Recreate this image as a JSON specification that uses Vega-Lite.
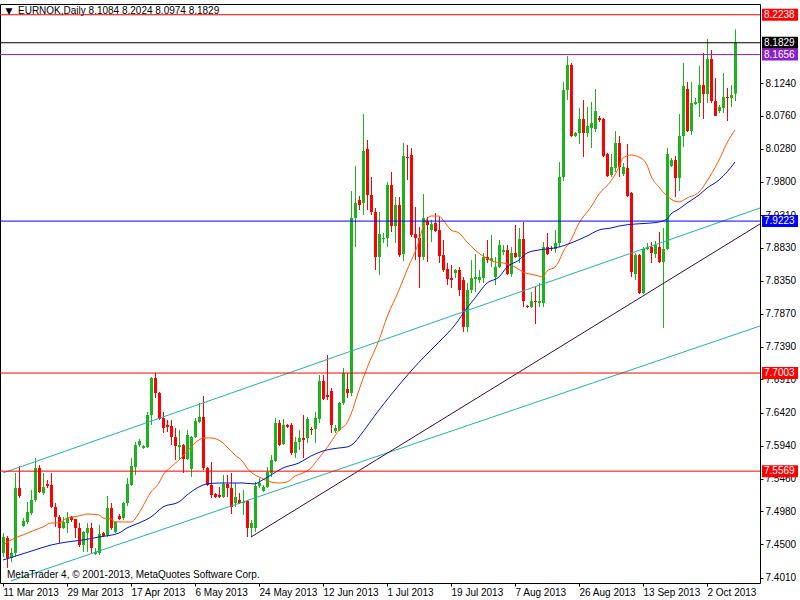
{
"$schema":"https://vega.github.io/schema/vega-lite/v6.json",
"width":760,"height":579,
"autosize":{"type":"none"},
"padding":{"left":0,"top":4,"right":40,"bottom":17},
"background":"#ffffff",
"config":{"view":{"stroke":"#000000","strokeWidth":1},"axis":{"labelFont":"Liberation Sans","labelFontSize":10,"labelColor":"#000000","tickColor":"#000000","grid":false,"domain":false,"labelOverlap":false,"labelSeparation":0},"text":{"font":"Liberation Sans","fontSize":10}},
"datasets":{
"candles":[
{"i":0,"o":7.4374,"h":7.4666,"l":7.4315,"c":7.4607},
{"i":1,"o":7.4593,"h":7.4622,"l":7.4155,"c":7.4301},
{"i":2,"o":7.4301,"h":7.4447,"l":7.4242,"c":7.4374},
{"i":3,"o":7.4374,"h":7.5543,"l":7.4315,"c":7.5323},
{"i":4,"o":7.5323,"h":7.5645,"l":7.5177,"c":7.5206},
{"i":5,"o":7.4768,"h":7.4885,"l":7.4754,"c":7.4841},
{"i":6,"o":7.4827,"h":7.5119,"l":7.4797,"c":7.4973},
{"i":7,"o":7.4958,"h":7.5294,"l":7.4929,"c":7.5148},
{"i":8,"o":7.5148,"h":7.5762,"l":7.5119,"c":7.5616},
{"i":9,"o":7.5616,"h":7.5659,"l":7.5250,"c":7.5265},
{"i":10,"o":7.5250,"h":7.5543,"l":7.5221,"c":7.5338},
{"i":11,"o":7.5382,"h":7.5440,"l":7.5323,"c":7.5353},
{"i":12,"o":7.5367,"h":7.5543,"l":7.5031,"c":7.5046},
{"i":13,"o":7.5046,"h":7.5104,"l":7.4754,"c":7.4900},
{"i":14,"o":7.4900,"h":7.4929,"l":7.4520,"c":7.4739},
{"i":15,"o":7.4739,"h":7.4900,"l":7.4724,"c":7.4827},
{"i":16,"o":7.4812,"h":7.4973,"l":7.4666,"c":7.4885},
{"i":17,"o":7.4900,"h":7.4914,"l":7.4827,"c":7.4856},
{"i":18,"o":7.4870,"h":7.4870,"l":7.4593,"c":7.4739},
{"i":19,"o":7.4739,"h":7.4812,"l":7.4461,"c":7.4490},
{"i":20,"o":7.4490,"h":7.4695,"l":7.4388,"c":7.4681},
{"i":21,"o":7.4666,"h":7.4812,"l":7.4388,"c":7.4739},
{"i":22,"o":7.4739,"h":7.4812,"l":7.4374,"c":7.4447},
{"i":23,"o":7.4359,"h":7.4447,"l":7.4344,"c":7.4388},
{"i":24,"o":7.4374,"h":7.4783,"l":7.4344,"c":7.4651},
{"i":25,"o":7.4666,"h":7.4681,"l":7.4607,"c":7.4622},
{"i":26,"o":7.4637,"h":7.5206,"l":7.4607,"c":7.5031},
{"i":27,"o":7.5031,"h":7.5104,"l":7.4710,"c":7.4739},
{"i":28,"o":7.4681,"h":7.4841,"l":7.4666,"c":7.4827},
{"i":29,"o":7.4914,"h":7.4943,"l":7.4856,"c":7.4870},
{"i":30,"o":7.4885,"h":7.5119,"l":7.4856,"c":7.5104},
{"i":31,"o":7.5104,"h":7.5469,"l":7.5060,"c":7.5382},
{"i":32,"o":7.5367,"h":7.5762,"l":7.5353,"c":7.5645},
{"i":33,"o":7.5630,"h":7.5995,"l":7.5513,"c":7.5952},
{"i":34,"o":7.5952,"h":7.6039,"l":7.5922,"c":7.6010},
{"i":35,"o":7.5908,"h":7.5952,"l":7.5893,"c":7.5937},
{"i":36,"o":7.5922,"h":7.6434,"l":7.5908,"c":7.6390},
{"i":37,"o":7.6390,"h":7.6945,"l":7.6244,"c":7.6930},
{"i":38,"o":7.6930,"h":7.7004,"l":7.6638,"c":7.6711},
{"i":39,"o":7.6711,"h":7.6726,"l":7.6317,"c":7.6331},
{"i":40,"o":7.6346,"h":7.6434,"l":7.6127,"c":7.6200},
{"i":41,"o":7.6244,"h":7.6317,"l":7.6141,"c":7.6215},
{"i":42,"o":7.6229,"h":7.6317,"l":7.5952,"c":7.6068},
{"i":43,"o":7.6068,"h":7.6200,"l":7.5732,"c":7.5937},
{"i":44,"o":7.5922,"h":7.6171,"l":7.5732,"c":7.5952},
{"i":45,"o":7.5952,"h":7.5966,"l":7.5543,"c":7.5747},
{"i":46,"o":7.5747,"h":7.6171,"l":7.5732,"c":7.6098},
{"i":47,"o":7.5601,"h":7.6083,"l":7.5484,"c":7.6068},
{"i":48,"o":7.6068,"h":7.6346,"l":7.6054,"c":7.6302},
{"i":49,"o":7.6288,"h":7.6565,"l":7.6273,"c":7.6361},
{"i":50,"o":7.6361,"h":7.6667,"l":7.5586,"c":7.5616},
{"i":51,"o":7.5616,"h":7.5630,"l":7.5353,"c":7.5367},
{"i":52,"o":7.5367,"h":7.5703,"l":7.5177,"c":7.5221},
{"i":53,"o":7.5236,"h":7.5250,"l":7.5177,"c":7.5192},
{"i":54,"o":7.5221,"h":7.5338,"l":7.5177,"c":7.5192},
{"i":55,"o":7.5192,"h":7.5513,"l":7.5177,"c":7.5382},
{"i":56,"o":7.5382,"h":7.5513,"l":7.5192,"c":7.5323},
{"i":57,"o":7.5323,"h":7.5543,"l":7.4943,"c":7.5046},
{"i":58,"o":7.5104,"h":7.5396,"l":7.5046,"c":7.5192},
{"i":59,"o":7.5148,"h":7.5250,"l":7.5090,"c":7.5104},
{"i":60,"o":7.5104,"h":7.5294,"l":7.4929,"c":7.5119},
{"i":61,"o":7.5133,"h":7.5148,"l":7.4607,"c":7.4739},
{"i":62,"o":7.4739,"h":7.4856,"l":7.4607,"c":7.4812},
{"i":63,"o":7.4739,"h":7.5411,"l":7.4681,"c":7.5353},
{"i":64,"o":7.5353,"h":7.5469,"l":7.5323,"c":7.5396},
{"i":65,"o":7.5280,"h":7.5367,"l":7.5265,"c":7.5338},
{"i":66,"o":7.5338,"h":7.5630,"l":7.5323,"c":7.5557},
{"i":67,"o":7.5543,"h":7.5805,"l":7.5484,"c":7.5732},
{"i":68,"o":7.5718,"h":7.6346,"l":7.5703,"c":7.6273},
{"i":69,"o":7.6273,"h":7.6317,"l":7.5937,"c":7.5952},
{"i":70,"o":7.5966,"h":7.6331,"l":7.5952,"c":7.6244},
{"i":71,"o":7.6244,"h":7.6258,"l":7.6200,"c":7.6215},
{"i":72,"o":7.6244,"h":7.6273,"l":7.5805,"c":7.5835},
{"i":73,"o":7.5835,"h":7.6068,"l":7.5762,"c":7.5995},
{"i":74,"o":7.5995,"h":7.6171,"l":7.5878,"c":7.6054},
{"i":75,"o":7.6054,"h":7.6390,"l":7.5762,"c":7.6025},
{"i":76,"o":7.6054,"h":7.6361,"l":7.5981,"c":7.6331},
{"i":77,"o":7.6185,"h":7.6215,"l":7.6098,"c":7.6171},
{"i":78,"o":7.6185,"h":7.6434,"l":7.5981,"c":7.6346},
{"i":79,"o":7.6331,"h":7.6974,"l":7.6273,"c":7.6887},
{"i":80,"o":7.6887,"h":7.6974,"l":7.6609,"c":7.6624},
{"i":81,"o":7.6682,"h":7.7266,"l":7.6609,"c":7.6653},
{"i":82,"o":7.6740,"h":7.6784,"l":7.6127,"c":7.6244},
{"i":83,"o":7.6156,"h":7.6244,"l":7.6127,"c":7.6200},
{"i":84,"o":7.6171,"h":7.6580,"l":7.6156,"c":7.6565},
{"i":85,"o":7.6565,"h":7.7076,"l":7.6536,"c":7.7004},
{"i":86,"o":7.6770,"h":7.7004,"l":7.6638,"c":7.6711},
{"i":87,"o":7.6711,"h":7.9663,"l":7.6667,"c":7.9268},
{"i":88,"o":7.9268,"h":8.0028,"l":7.8844,"c":7.9487},
{"i":89,"o":7.9531,"h":7.9589,"l":7.9385,"c":7.9458},
{"i":90,"o":7.9487,"h":8.0788,"l":7.9312,"c":8.0247},
{"i":91,"o":8.0276,"h":8.0408,"l":7.9385,"c":7.9604},
{"i":92,"o":7.9604,"h":7.9867,"l":7.9312,"c":7.9356},
{"i":93,"o":7.9356,"h":7.9414,"l":7.8508,"c":7.8698},
{"i":94,"o":7.8698,"h":7.9356,"l":7.8435,"c":7.9034},
{"i":95,"o":7.8961,"h":7.9049,"l":7.8903,"c":7.8976},
{"i":96,"o":7.8976,"h":7.9794,"l":7.8844,"c":7.9750},
{"i":97,"o":7.9750,"h":7.9940,"l":7.9063,"c":7.9151},
{"i":98,"o":7.9151,"h":7.9575,"l":7.8903,"c":7.9458},
{"i":99,"o":7.9458,"h":7.9575,"l":7.8698,"c":7.8727},
{"i":100,"o":7.8742,"h":8.0364,"l":7.8640,"c":8.0174},
{"i":101,"o":8.0159,"h":8.0335,"l":7.9823,"c":8.0145},
{"i":102,"o":8.0188,"h":8.0291,"l":7.8990,"c":7.9020},
{"i":103,"o":7.9034,"h":7.9429,"l":7.8654,"c":7.8976},
{"i":104,"o":7.8976,"h":7.9137,"l":7.8245,"c":7.8698},
{"i":105,"o":7.8698,"h":7.9619,"l":7.8654,"c":7.9268},
{"i":106,"o":7.9224,"h":7.9283,"l":7.8625,"c":7.9166},
{"i":107,"o":7.9093,"h":7.9239,"l":7.8917,"c":7.9180},
{"i":108,"o":7.9195,"h":7.9341,"l":7.9063,"c":7.9078},
{"i":109,"o":7.9093,"h":7.9283,"l":7.8611,"c":7.8713},
{"i":110,"o":7.8727,"h":7.8947,"l":7.8479,"c":7.8508},
{"i":111,"o":7.8523,"h":7.8611,"l":7.8289,"c":7.8377},
{"i":112,"o":7.8391,"h":7.8581,"l":7.8245,"c":7.8362},
{"i":113,"o":7.8465,"h":7.8523,"l":7.8391,"c":7.8508},
{"i":114,"o":7.8508,"h":7.8552,"l":7.8128,"c":7.8216},
{"i":115,"o":7.8362,"h":7.8406,"l":7.7603,"c":7.7676},
{"i":116,"o":7.7676,"h":7.8318,"l":7.7603,"c":7.8216},
{"i":117,"o":7.8216,"h":7.8654,"l":7.8172,"c":7.8391},
{"i":118,"o":7.8377,"h":7.8742,"l":7.8187,"c":7.8406},
{"i":119,"o":7.8362,"h":7.8508,"l":7.8318,"c":7.8406},
{"i":120,"o":7.8391,"h":7.8757,"l":7.8318,"c":7.8698},
{"i":121,"o":7.8698,"h":7.8947,"l":7.8611,"c":7.8654},
{"i":122,"o":7.8640,"h":7.9020,"l":7.8552,"c":7.8684},
{"i":123,"o":7.8406,"h":7.8698,"l":7.8289,"c":7.8552},
{"i":124,"o":7.8552,"h":7.8947,"l":7.8538,"c":7.8874},
{"i":125,"o":7.8771,"h":7.8874,"l":7.8727,"c":7.8801},
{"i":126,"o":7.8801,"h":7.8874,"l":7.8435,"c":7.8450},
{"i":127,"o":7.8450,"h":7.8844,"l":7.8406,"c":7.8757},
{"i":128,"o":7.8757,"h":7.9166,"l":7.8684,"c":7.8698},
{"i":129,"o":7.8698,"h":7.9122,"l":7.8611,"c":7.8961},
{"i":130,"o":7.8961,"h":7.9210,"l":7.7968,"c":7.8055},
{"i":131,"o":7.7982,"h":7.7997,"l":7.7953,"c":7.7968},
{"i":132,"o":7.7968,"h":7.8187,"l":7.7953,"c":7.8055},
{"i":133,"o":7.8055,"h":7.8260,"l":7.7719,"c":7.8041},
{"i":134,"o":7.8026,"h":7.8318,"l":7.7968,"c":7.8055},
{"i":135,"o":7.8026,"h":7.8917,"l":7.7968,"c":7.8844},
{"i":136,"o":7.8844,"h":7.9049,"l":7.8727,"c":7.8742},
{"i":137,"o":7.8830,"h":7.8859,"l":7.8786,"c":7.8815},
{"i":138,"o":7.8815,"h":7.9093,"l":7.8757,"c":7.8903},
{"i":139,"o":7.8903,"h":8.0086,"l":7.8844,"c":7.9867},
{"i":140,"o":7.9867,"h":8.1255,"l":7.9809,"c":8.1138},
{"i":141,"o":8.1138,"h":8.1635,"l":8.0992,"c":8.1503},
{"i":142,"o":8.1503,"h":8.1533,"l":8.0451,"c":8.0466},
{"i":143,"o":8.0466,"h":8.0525,"l":8.0451,"c":8.0510},
{"i":144,"o":8.0510,"h":8.0875,"l":8.0349,"c":8.0714},
{"i":145,"o":8.0714,"h":8.0992,"l":8.0159,"c":8.0510},
{"i":146,"o":8.0510,"h":8.0890,"l":8.0451,"c":8.0612},
{"i":147,"o":8.0583,"h":8.0963,"l":8.0291,"c":8.0656},
{"i":148,"o":8.0568,"h":8.1153,"l":8.0525,"c":8.0831},
{"i":149,"o":8.0729,"h":8.0758,"l":8.0671,"c":8.0700},
{"i":150,"o":8.0714,"h":8.0729,"l":8.0159,"c":8.0174},
{"i":151,"o":8.0203,"h":8.0218,"l":7.9867,"c":7.9882},
{"i":152,"o":7.9896,"h":8.0203,"l":7.9867,"c":8.0013},
{"i":153,"o":7.9998,"h":8.0539,"l":7.9940,"c":8.0364},
{"i":154,"o":8.0364,"h":8.0466,"l":7.9867,"c":8.0013},
{"i":155,"o":7.9911,"h":8.0072,"l":7.9882,"c":8.0013},
{"i":156,"o":7.9998,"h":8.0349,"l":7.9575,"c":7.9589},
{"i":157,"o":7.9633,"h":7.9648,"l":7.8406,"c":7.8479},
{"i":158,"o":7.8450,"h":7.8757,"l":7.8362,"c":7.8727},
{"i":159,"o":7.8727,"h":7.8742,"l":7.8158,"c":7.8172},
{"i":160,"o":7.8172,"h":7.8844,"l":7.8158,"c":7.8815},
{"i":161,"o":7.8815,"h":7.8903,"l":7.8801,"c":7.8844},
{"i":162,"o":7.8844,"h":7.8917,"l":7.8611,"c":7.8757},
{"i":163,"o":7.8742,"h":7.8932,"l":7.8684,"c":7.8874},
{"i":164,"o":7.8844,"h":7.9063,"l":7.8611,"c":7.8625},
{"i":165,"o":7.8625,"h":7.9122,"l":7.7661,"c":7.8815},
{"i":166,"o":7.8815,"h":8.0291,"l":7.8801,"c":8.0203},
{"i":167,"o":8.0028,"h":8.0145,"l":8.0013,"c":8.0115},
{"i":168,"o":8.0115,"h":8.0174,"l":7.9575,"c":7.9852},
{"i":169,"o":7.9852,"h":8.0788,"l":7.9663,"c":8.0466},
{"i":170,"o":8.0466,"h":8.1533,"l":8.0305,"c":8.1197},
{"i":171,"o":8.1153,"h":8.1255,"l":8.0525,"c":8.0539},
{"i":172,"o":8.0539,"h":8.1255,"l":8.0481,"c":8.0948},
{"i":173,"o":8.0934,"h":8.1021,"l":8.0919,"c":8.0963},
{"i":174,"o":8.0948,"h":8.1489,"l":8.0744,"c":8.1211},
{"i":175,"o":8.1211,"h":8.1679,"l":8.0714,"c":8.1080},
{"i":176,"o":8.1080,"h":8.1883,"l":8.0948,"c":8.1591},
{"i":177,"o":8.1591,"h":8.1723,"l":8.0948,"c":8.0977},
{"i":178,"o":8.0977,"h":8.1313,"l":8.0758,"c":8.0758},
{"i":179,"o":8.0831,"h":8.0919,"l":8.0802,"c":8.0890},
{"i":180,"o":8.0875,"h":8.1387,"l":8.0802,"c":8.1036},
{"i":181,"o":8.1036,"h":8.1167,"l":8.0685,"c":8.1021},
{"i":182,"o":8.1021,"h":8.1211,"l":8.0890,"c":8.1065},
{"i":183,"o":8.1084,"h":8.2024,"l":8.0974,"c":8.1829}
],
"ma":[
{"kind":"fast MA","i":0,"v":7.4490},{"kind":"fast MA","i":3,"v":7.4593},{"kind":"fast MA","i":5,"v":7.4637},{"kind":"fast MA","i":8,"v":7.4710},{"kind":"fast MA","i":10,"v":7.4754},{"kind":"fast MA","i":12,"v":7.4812},{"kind":"fast MA","i":14,"v":7.4812},{"kind":"fast MA","i":16,"v":7.4885},{"kind":"fast MA","i":19,"v":7.4914},{"kind":"fast MA","i":21,"v":7.4943},{"kind":"fast MA","i":24,"v":7.4929},{"kind":"fast MA","i":25,"v":7.4885},{"kind":"fast MA","i":27,"v":7.4870},{"kind":"fast MA","i":28,"v":7.4827},{"kind":"fast MA","i":30,"v":7.4827},{"kind":"fast MA","i":32,"v":7.4827},{"kind":"fast MA","i":34,"v":7.4958},{"kind":"fast MA","i":35,"v":7.5060},{"kind":"fast MA","i":37,"v":7.5265},{"kind":"fast MA","i":39,"v":7.5396},{"kind":"fast MA","i":40,"v":7.5513},{"kind":"fast MA","i":42,"v":7.5630},{"kind":"fast MA","i":44,"v":7.5732},{"kind":"fast MA","i":45,"v":7.5790},{"kind":"fast MA","i":47,"v":7.5922},{"kind":"fast MA","i":49,"v":7.6025},{"kind":"fast MA","i":50,"v":7.6054},{"kind":"fast MA","i":52,"v":7.6054},{"kind":"fast MA","i":55,"v":7.5981},{"kind":"fast MA","i":56,"v":7.5922},{"kind":"fast MA","i":58,"v":7.5805},{"kind":"fast MA","i":60,"v":7.5703},{"kind":"fast MA","i":61,"v":7.5616},{"kind":"fast MA","i":63,"v":7.5513},{"kind":"fast MA","i":64,"v":7.5484},{"kind":"fast MA","i":67,"v":7.5411},{"kind":"fast MA","i":69,"v":7.5396},{"kind":"fast MA","i":71,"v":7.5411},{"kind":"fast MA","i":73,"v":7.5498},{"kind":"fast MA","i":75,"v":7.5543},{"kind":"fast MA","i":77,"v":7.5616},{"kind":"fast MA","i":78,"v":7.5689},{"kind":"fast MA","i":80,"v":7.5835},{"kind":"fast MA","i":82,"v":7.5995},{"kind":"fast MA","i":84,"v":7.6171},{"kind":"fast MA","i":86,"v":7.6273},{"kind":"fast MA","i":87,"v":7.6404},{"kind":"fast MA","i":89,"v":7.6755},{"kind":"fast MA","i":91,"v":7.7077},{"kind":"fast MA","i":94,"v":7.7486},{"kind":"fast MA","i":96,"v":7.7820},{"kind":"fast MA","i":99,"v":7.8216},{"kind":"fast MA","i":101,"v":7.8508},{"kind":"fast MA","i":104,"v":7.8932},{"kind":"fast MA","i":105,"v":7.9137},{"kind":"fast MA","i":107,"v":7.9297},{"kind":"fast MA","i":109,"v":7.9297},{"kind":"fast MA","i":110,"v":7.9239},{"kind":"fast MA","i":112,"v":7.9093},{"kind":"fast MA","i":114,"v":7.9049},{"kind":"fast MA","i":116,"v":7.8917},{"kind":"fast MA","i":118,"v":7.8801},{"kind":"fast MA","i":120,"v":7.8713},{"kind":"fast MA","i":123,"v":7.8625},{"kind":"fast MA","i":125,"v":7.8611},{"kind":"fast MA","i":128,"v":7.8552},{"kind":"fast MA","i":130,"v":7.8479},{"kind":"fast MA","i":133,"v":7.8435},{"kind":"fast MA","i":135,"v":7.8406},{"kind":"fast MA","i":136,"v":7.8494},{"kind":"fast MA","i":138,"v":7.8552},{"kind":"fast MA","i":139,"v":7.8640},{"kind":"fast MA","i":140,"v":7.8771},{"kind":"fast MA","i":142,"v":7.8947},{"kind":"fast MA","i":144,"v":7.9195},{"kind":"fast MA","i":147,"v":7.9429},{"kind":"fast MA","i":149,"v":7.9619},{"kind":"fast MA","i":152,"v":7.9809},{"kind":"fast MA","i":154,"v":8.0013},{"kind":"fast MA","i":155,"v":8.0145},{"kind":"fast MA","i":157,"v":8.0188},{"kind":"fast MA","i":159,"v":8.0159},{"kind":"fast MA","i":161,"v":8.0042},{"kind":"fast MA","i":162,"v":7.9882},{"kind":"fast MA","i":164,"v":7.9721},{"kind":"fast MA","i":166,"v":7.9589},{"kind":"fast MA","i":169,"v":7.9502},{"kind":"fast MA","i":171,"v":7.9560},{"kind":"fast MA","i":174,"v":7.9648},{"kind":"fast MA","i":176,"v":7.9809},{"kind":"fast MA","i":179,"v":8.0115},{"kind":"fast MA","i":181,"v":8.0364},{"kind":"fast MA","i":183,"v":8.0554},
{"kind":"slow MA","i":0,"v":7.4271},{"kind":"slow MA","i":4,"v":7.4344},{"kind":"slow MA","i":8,"v":7.4418},{"kind":"slow MA","i":12,"v":7.4490},{"kind":"slow MA","i":16,"v":7.4534},{"kind":"slow MA","i":20,"v":7.4564},{"kind":"slow MA","i":24,"v":7.4607},{"kind":"slow MA","i":29,"v":7.4666},{"kind":"slow MA","i":31,"v":7.4739},{"kind":"slow MA","i":34,"v":7.4812},{"kind":"slow MA","i":37,"v":7.4900},{"kind":"slow MA","i":40,"v":7.5046},{"kind":"slow MA","i":44,"v":7.5119},{"kind":"slow MA","i":46,"v":7.5221},{"kind":"slow MA","i":49,"v":7.5338},{"kind":"slow MA","i":51,"v":7.5382},{"kind":"slow MA","i":54,"v":7.5396},{"kind":"slow MA","i":57,"v":7.5396},{"kind":"slow MA","i":60,"v":7.5396},{"kind":"slow MA","i":63,"v":7.5382},{"kind":"slow MA","i":64,"v":7.5411},{"kind":"slow MA","i":67,"v":7.5513},{"kind":"slow MA","i":70,"v":7.5616},{"kind":"slow MA","i":74,"v":7.5689},{"kind":"slow MA","i":77,"v":7.5791},{"kind":"slow MA","i":80,"v":7.5864},{"kind":"slow MA","i":84,"v":7.5908},{"kind":"slow MA","i":86,"v":7.5922},{"kind":"slow MA","i":88,"v":7.5995},{"kind":"slow MA","i":89,"v":7.6068},{"kind":"slow MA","i":94,"v":7.6463},{"kind":"slow MA","i":99,"v":7.6828},{"kind":"slow MA","i":104,"v":7.7161},{"kind":"slow MA","i":109,"v":7.7456},{"kind":"slow MA","i":113,"v":7.7707},{"kind":"slow MA","i":116,"v":7.7953},{"kind":"slow MA","i":118,"v":7.8099},{"kind":"slow MA","i":121,"v":7.8318},{"kind":"slow MA","i":124,"v":7.8406},{"kind":"slow MA","i":126,"v":7.8552},{"kind":"slow MA","i":129,"v":7.8654},{"kind":"slow MA","i":131,"v":7.8757},{"kind":"slow MA","i":134,"v":7.8801},{"kind":"slow MA","i":136,"v":7.8815},{"kind":"slow MA","i":139,"v":7.8844},{"kind":"slow MA","i":142,"v":7.8903},{"kind":"slow MA","i":146,"v":7.9005},{"kind":"slow MA","i":149,"v":7.9093},{"kind":"slow MA","i":152,"v":7.9122},{"kind":"slow MA","i":154,"v":7.9151},{"kind":"slow MA","i":158,"v":7.9180},{"kind":"slow MA","i":162,"v":7.9195},{"kind":"slow MA","i":164,"v":7.9210},{"kind":"slow MA","i":166,"v":7.9254},{"kind":"slow MA","i":167,"v":7.9327},{"kind":"slow MA","i":169,"v":7.9400},{"kind":"slow MA","i":171,"v":7.9487},{"kind":"slow MA","i":174,"v":7.9604},{"kind":"slow MA","i":176,"v":7.9706},{"kind":"slow MA","i":179,"v":7.9823},{"kind":"slow MA","i":181,"v":7.9940},{"kind":"slow MA","i":183,"v":8.0086}
],
"trend":[
{"line":"upper channel","kind":"channel","i":0,"price":7.5543},{"line":"upper channel","kind":"channel","i":189.25,"price":7.9414},
{"line":"lower channel","kind":"channel","i":2,"price":7.3965},{"line":"lower channel","kind":"channel","i":189.25,"price":7.7690},
{"line":"trend line","kind":"trend","i":62,"price":7.4607},{"line":"trend line","kind":"trend","i":189.25,"price":7.9181}
],
"levels":[
{"kind":"resistance","price":8.2238},{"kind":"bid","price":8.1829},{"kind":"high","price":8.1656},{"kind":"pivot","price":7.9223},{"kind":"support","price":7.7003},{"kind":"support","price":7.5569}
]
},
"layer":[
{"data":{"name":"candles"},"mark":{"type":"rule","strokeWidth":1,"xOffset":0.5},
 "encoding":{
  "x":{"field":"i","type":"quantitative","title":null,"scale":{"domain":[-0.75,189.25],"nice":false,"zero":false},
   "axis":{"orient":"bottom","values":[0,16,32,48,64,80,96,112,128,144,160,176],
    "labelExpr":"datum.value == 0 ? '11 Mar 2013' : datum.value == 16 ? '29 Mar 2013' : datum.value == 32 ? '17 Apr 2013' : datum.value == 48 ? '6 May 2013' : datum.value == 64 ? '24 May 2013' : datum.value == 80 ? '12 Jun 2013' : datum.value == 96 ? '1 Jul 2013' : datum.value == 112 ? '19 Jul 2013' : datum.value == 128 ? '7 Aug 2013' : datum.value == 144 ? '26 Aug 2013' : datum.value == 160 ? '13 Sep 2013' : '2 Oct 2013'",
    "labelAlign":"left","labelBaseline":"top","labelPadding":1,"labelFlush":false,"labelOverlap":false,"labelBound":false,"tickSize":3,"domain":false,"grid":false}},
  "y":{"field":"l","type":"quantitative","title":null,"scale":{"domain":[7.3935,8.2395],"nice":false,"zero":false},
   "axis":{"orient":"right","values":[7.401,7.45,7.498,7.546,7.594,7.642,7.691,7.739,7.787,7.835,7.883,7.931,7.98,8.028,8.076,8.124],"format":".4f","labelAlign":"left","labelBaseline":"middle","labelPadding":2,"tickSize":3,"labelFlush":false,"labelOverlap":false,"labelSeparation":0,"tickCount":16,"domain":false,"grid":false}},
  "y2":{"field":"h"},
  "color":{"condition":{"test":"datum.c >= datum.o","value":"#1db31d"},"value":"#ff0000"}}},
{"data":{"name":"candles"},"mark":{"type":"rule","strokeWidth":3,"xOffset":0.5},
 "encoding":{
  "x":{"field":"i","type":"quantitative","title":null,"scale":{"domain":[-0.75,189.25],"nice":false,"zero":false}},
  "y":{"field":"o","type":"quantitative","title":null,"scale":{"domain":[7.3935,8.2395],"nice":false,"zero":false}},
  "y2":{"field":"c"},
  "color":{"condition":{"test":"datum.c >= datum.o","value":"#1db31d"},"value":"#ff0000"}}},
{"data":{"name":"ma"},"mark":{"type":"line","strokeWidth":1,"interpolate":"monotone"},
 "encoding":{
  "x":{"field":"i","type":"quantitative","title":null,"scale":{"domain":[-0.75,189.25],"nice":false,"zero":false}},
  "y":{"field":"v","type":"quantitative","title":null,"scale":{"domain":[7.3935,8.2395],"nice":false,"zero":false}},
  "color":{"field":"kind","type":"nominal","legend":null,"scale":{"domain":["resistance","support","bid","high","pivot","channel","trend","fast MA","slow MA"],"range":["#ff0000","#ff0000","#000000","#8b1fcf","#0000ff","#20b2aa","#3a0a3a","#ff5a00","#0018c8"]}}}},
{"data":{"name":"trend"},"mark":{"type":"line","strokeWidth":1,"clip":true},
 "encoding":{
  "x":{"field":"i","type":"quantitative","title":null,"scale":{"domain":[-0.75,189.25],"nice":false,"zero":false}},
  "y":{"field":"price","type":"quantitative","title":null,"scale":{"domain":[7.3935,8.2395],"nice":false,"zero":false}},
  "detail":{"field":"line","type":"nominal"},
  "color":{"field":"kind","type":"nominal","legend":null}}},
{"data":{"name":"levels"},"mark":{"type":"rule","strokeWidth":1},
 "encoding":{
  "y":{"field":"price","type":"quantitative","title":null,"scale":{"domain":[7.3935,8.2395],"nice":false,"zero":false}},
  "color":{"field":"kind","type":"nominal","legend":null}}},
{"data":{"name":"levels"},"mark":{"type":"rule","strokeWidth":12},
 "encoding":{
  "x":{"datum":189.75,"type":"quantitative","title":null,"scale":{"domain":[-0.75,189.25],"nice":false,"zero":false}},
  "x2":{"datum":198.75},
  "y":{"field":"price","type":"quantitative","title":null,"scale":{"domain":[7.3935,8.2395],"nice":false,"zero":false}},
  "color":{"field":"kind","type":"nominal","legend":null}}},
{"data":{"name":"levels"},"mark":{"type":"text","align":"left","baseline":"middle","color":"#ffffff","fontSize":10},
 "encoding":{
  "x":{"datum":190.25,"type":"quantitative","title":null,"scale":{"domain":[-0.75,189.25],"nice":false,"zero":false}},
  "y":{"field":"price","type":"quantitative","title":null,"scale":{"domain":[7.3935,8.2395],"nice":false,"zero":false}},
  "text":{"field":"price","type":"quantitative","format":".4f"}}},
{"data":{"values":[{"label":"▼"}]},"mark":{"type":"text","align":"center","baseline":"middle","color":"#000000","fontSize":9,"font":"DejaVu Sans"},
 "encoding":{
  "x":{"datum":1.5,"type":"quantitative","title":null,"scale":{"domain":[-0.75,189.25],"nice":false,"zero":false}},
  "y":{"datum":8.2300,"type":"quantitative","title":null,"scale":{"domain":[7.3935,8.2395],"nice":false,"zero":false}},
  "text":{"field":"label","type":"nominal"}}},
{"data":{"values":[{"label":"EURNOK,Daily  8.1084 8.2024 8.0974 8.1829"}]},"mark":{"type":"text","align":"left","baseline":"middle","color":"#000000","fontSize":10},
 "encoding":{
  "x":{"datum":3.75,"type":"quantitative","title":null,"scale":{"domain":[-0.75,189.25],"nice":false,"zero":false}},
  "y":{"datum":8.2300,"type":"quantitative","title":null,"scale":{"domain":[7.3935,8.2395],"nice":false,"zero":false}},
  "text":{"field":"label","type":"nominal"}}},
{"data":{"values":[{"label":"MetaTrader 4, © 2001-2013, MetaQuotes Software Corp."}]},"mark":{"type":"text","align":"left","baseline":"middle","color":"#000000","fontSize":10},
 "encoding":{
  "x":{"datum":1,"type":"quantitative","title":null,"scale":{"domain":[-0.75,189.25],"nice":false,"zero":false}},
  "y":{"datum":7.4052,"type":"quantitative","title":null,"scale":{"domain":[7.3935,8.2395],"nice":false,"zero":false}},
  "text":{"field":"label","type":"nominal"}}}
]
}
